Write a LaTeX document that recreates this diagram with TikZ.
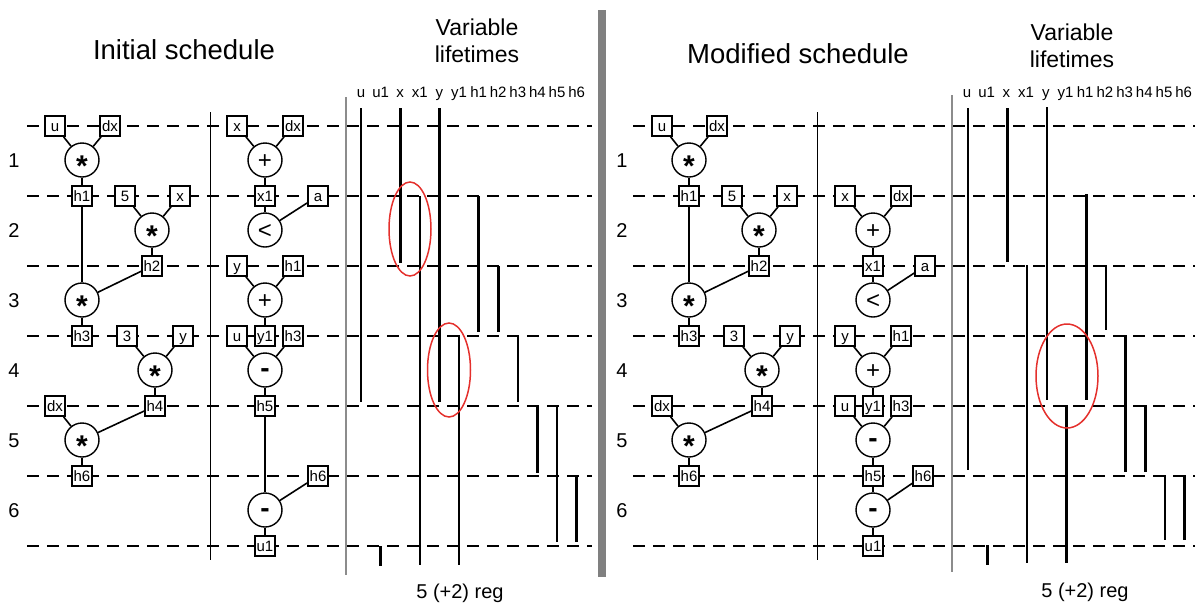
\documentclass[tikz,border=0pt]{standalone}
\usepackage{fontspec}
\setmainfont{Liberation Sans}
\usetikzlibrary{positioning}

\definecolor{lifered}{RGB}{228,48,44}
\definecolor{bargray}{RGB}{128,128,128}
\definecolor{axisgray}{RGB}{140,140,140}

\newcommand{\opmul}{\raisebox{-16.5pt}[0pt][0pt]{\fontsize{30}{30}\selectfont\bfseries *}}
\newcommand{\opadd}{\raisebox{-8.4pt}[0pt][0pt]{+}}
\newcommand{\oplt}{\raisebox{-8.4pt}[0pt][0pt]{<}}
\newcommand{\opsub}{\raisebox{-7.7pt}[0pt][0pt]{\fontsize{28}{28}\selectfont\bfseries -}}

\tikzset{
  varbox/.style={draw, rectangle, line width=1.6pt, fill=white, minimum size=20pt,
    inner sep=0pt, text height=10.8pt, text depth=0pt, font=\fontsize{15}{15}\selectfont},
  opnode/.style={draw, circle, line width=1.4pt, fill=white, minimum size=34pt,
    inner sep=0pt, font=\fontsize{24}{24}\selectfont},
  wire/.style={line width=1.6pt},
  slotline/.style={line width=1.2pt, dash pattern=on 12pt off 8pt},
  lifebar/.style={line width=2.6pt},
  lifering/.style={draw=lifered, line width=1.5pt},
  heading/.style={font=\fontsize{27.5}{32}\selectfont, anchor=base},
  subheading/.style={font=\fontsize{23}{27}\selectfont, align=center},
  stepnum/.style={font=\fontsize{20}{20}\selectfont},
  varname/.style={font=\fontsize{15}{15}\selectfont, anchor=base},
  regcount/.style={font=\fontsize{20}{24}\selectfont, anchor=base},
}

\begin{document}
\begin{tikzpicture}[x=1pt, y=-1pt]
  \useasboundingbox (0,0) rectangle (1195,603);

  % Control steps
  \foreach \y in {126,196,...,546} {
    \draw[slotline] (27,\y) -- (592,\y);
    \draw[slotline] (633,\y) -- (1195,\y);
  }
  \foreach \s in {1,...,6} {
    \node[stepnum] (is\s) at (14,{91+70*\s}) {\s};
    \node[stepnum] (ms\s) at (622,{91+70*\s}) {\s};
  }

  % Dividers
  \fill[bargray] (598,10) rectangle (606,577);
  \draw[line width=1pt] (210,112) -- (210,560);
  \draw[line width=1pt] (817,112) -- (817,560);
  \draw[axisgray, line width=2pt] (346,97) -- (346,575);
  \draw[axisgray, line width=2pt] (952,95) -- (952,572);

  % Titles
  \node[heading] (ititle) at (184,59) {Initial schedule};
  \node[heading] (mtitle) at (798,63) {Modified schedule};
  \node[subheading] (ilife) at (477,41) {Variable\\lifetimes};
  \node[subheading] (mlife) at (1072,46) {Variable\\lifetimes};

  % Initial schedule: first unit
  \node[varbox] (iu) at (55,126) {u};
  \node[varbox] (idx) at (110,126) {dx};
  \node[opnode] (imul1) at (82,160) {\opmul};
  \node[varbox] (ih1) at (82,196) {h1};
  \node[varbox] (ifive) at (125,196) {5};
  \node[varbox] (ix) at (180,196) {x};
  \node[opnode] (imul2) at (152,230) {\opmul};
  \node[varbox] (ih2) at (152,266) {h2};
  \node[opnode] (imul3) at (82,300) {\opmul};
  \node[varbox] (ih3) at (82,336) {h3};
  \node[varbox] (ithree) at (127,336) {3};
  \node[varbox] (iy) at (183,336) {y};
  \node[opnode] (imul4) at (155,370) {\opmul};
  \node[varbox] (ih4) at (155,406) {h4};
  \node[varbox] (idxb) at (55,406) {dx};
  \node[opnode] (imul5) at (82,440) {\opmul};
  \node[varbox] (ih6) at (82,476) {h6};

  \draw[wire] (iu) -- (imul1);
  \draw[wire] (idx) -- (imul1);
  \draw[wire] (imul1) -- (ih1);
  \draw[wire] (ifive) -- (imul2);
  \draw[wire] (ix) -- (imul2);
  \draw[wire] (imul2) -- (ih2);
  \draw[wire] (ih1) -- (imul3);
  \draw[wire] (ih2) -- (imul3);
  \draw[wire] (imul3) -- (ih3);
  \draw[wire] (ithree) -- (imul4);
  \draw[wire] (iy) -- (imul4);
  \draw[wire] (imul4) -- (ih4);
  \draw[wire] (idxb) -- (imul5);
  \draw[wire] (ih4) -- (imul5);
  \draw[wire] (imul5) -- (ih6);

  % Initial schedule: second unit
  \node[varbox] (ixa) at (237,126) {x};
  \node[varbox] (idxa) at (293,126) {dx};
  \node[opnode] (iadd1) at (265,160) {\opadd};
  \node[varbox] (ix1) at (265,196) {x1};
  \node[varbox] (ia) at (318,196) {a};
  \node[opnode] (ilt) at (265,230) {\oplt};
  \node[varbox] (iya) at (237,266) {y};
  \node[varbox] (ih1a) at (293,266) {h1};
  \node[opnode] (iadd2) at (265,300) {\opadd};
  \node[varbox] (iua) at (237,336) {u};
  \node[varbox] (iy1) at (265,336) {y1};
  \node[varbox] (ih3a) at (293,336) {h3};
  \node[opnode] (isub1) at (265,370) {\opsub};
  \node[varbox] (ih5) at (265,406) {h5};
  \node[varbox] (ih6a) at (318,476) {h6};
  \node[opnode] (isub2) at (265,510) {\opsub};
  \node[varbox] (iu1) at (265,546) {u1};

  \draw[wire] (ixa) -- (iadd1);
  \draw[wire] (idxa) -- (iadd1);
  \draw[wire] (iadd1) -- (ix1);
  \draw[wire] (ix1) -- (ilt);
  \draw[wire] (ia) -- (ilt);
  \draw[wire] (iya) -- (iadd2);
  \draw[wire] (ih1a) -- (iadd2);
  \draw[wire] (iadd2) -- (iy1);
  \draw[wire] (iua) -- (isub1);
  \draw[wire] (ih3a) -- (isub1);
  \draw[wire] (isub1) -- (ih5);
  \draw[wire] (ih5) -- (isub2);
  \draw[wire] (ih6a) -- (isub2);
  \draw[wire] (isub2) -- (iu1);

  % Initial schedule: lifetimes
  \foreach \v [count=\i from 0] in {u,u1,x,x1,y,y1,h1,h2,h3,h4,h5,h6}
    \node[varname] (in\v) at ({361+19.6*\i},97) {\v};
  \foreach \i/\a/\b in {0/108/402, 1/546/566, 2/108/263, 3/196/565, 4/108/402, 5/335/565,
                        6/196/332, 7/266/332, 8/335/402, 9/406/473, 10/406/542, 11/476/542}
    \draw[lifebar] ({361+19.6*\i},\a) -- ({361+19.6*\i},\b);
  \draw[lifering] (410,229) ellipse [x radius=21, y radius=47];
  \draw[lifering] (449,370) ellipse [x radius=21.5, y radius=47];
  \node[regcount] (ireg) at (460,598) {5 (+2) reg};

  % Modified schedule: first unit
  \node[varbox] (mu) at (662,126) {u};
  \node[varbox] (mdx) at (717,126) {dx};
  \node[opnode] (mmul1) at (689,160) {\opmul};
  \node[varbox] (mh1) at (689,196) {h1};
  \node[varbox] (mfive) at (732,196) {5};
  \node[varbox] (mx) at (787,196) {x};
  \node[opnode] (mmul2) at (759,230) {\opmul};
  \node[varbox] (mh2) at (759,266) {h2};
  \node[opnode] (mmul3) at (689,300) {\opmul};
  \node[varbox] (mh3) at (689,336) {h3};
  \node[varbox] (mthree) at (734,336) {3};
  \node[varbox] (my) at (790,336) {y};
  \node[opnode] (mmul4) at (762,370) {\opmul};
  \node[varbox] (mh4) at (762,406) {h4};
  \node[varbox] (mdxb) at (662,406) {dx};
  \node[opnode] (mmul5) at (689,440) {\opmul};
  \node[varbox] (mh6) at (689,476) {h6};

  \draw[wire] (mu) -- (mmul1);
  \draw[wire] (mdx) -- (mmul1);
  \draw[wire] (mmul1) -- (mh1);
  \draw[wire] (mfive) -- (mmul2);
  \draw[wire] (mx) -- (mmul2);
  \draw[wire] (mmul2) -- (mh2);
  \draw[wire] (mh1) -- (mmul3);
  \draw[wire] (mh2) -- (mmul3);
  \draw[wire] (mmul3) -- (mh3);
  \draw[wire] (mthree) -- (mmul4);
  \draw[wire] (my) -- (mmul4);
  \draw[wire] (mmul4) -- (mh4);
  \draw[wire] (mdxb) -- (mmul5);
  \draw[wire] (mh4) -- (mmul5);
  \draw[wire] (mmul5) -- (mh6);

  % Modified schedule: second unit
  \node[varbox] (mxa) at (845,196) {x};
  \node[varbox] (mdxa) at (901,196) {dx};
  \node[opnode] (madd1) at (873,230) {\opadd};
  \node[varbox] (mx1) at (873,266) {x1};
  \node[varbox] (ma) at (925,266) {a};
  \node[opnode] (mlt) at (873,300) {\oplt};
  \node[varbox] (mya) at (845,336) {y};
  \node[varbox] (mh1a) at (901,336) {h1};
  \node[opnode] (madd2) at (873,370) {\opadd};
  \node[varbox] (mua) at (845,406) {u};
  \node[varbox] (my1) at (873,406) {y1};
  \node[varbox] (mh3a) at (901,406) {h3};
  \node[opnode] (msub1) at (873,440) {\opsub};
  \node[varbox] (mh5) at (873,476) {h5};
  \node[varbox] (mh6a) at (923,476) {h6};
  \node[opnode] (msub2) at (873,510) {\opsub};
  \node[varbox] (mu1) at (873,546) {u1};

  \draw[wire] (mxa) -- (madd1);
  \draw[wire] (mdxa) -- (madd1);
  \draw[wire] (madd1) -- (mx1);
  \draw[wire] (mx1) -- (mlt);
  \draw[wire] (ma) -- (mlt);
  \draw[wire] (mya) -- (madd2);
  \draw[wire] (mh1a) -- (madd2);
  \draw[wire] (madd2) -- (my1);
  \draw[wire] (mua) -- (msub1);
  \draw[wire] (mh3a) -- (msub1);
  \draw[wire] (msub1) -- (mh5);
  \draw[wire] (mh5) -- (msub2);
  \draw[wire] (mh6a) -- (msub2);
  \draw[wire] (msub2) -- (mu1);

  % Modified schedule: lifetimes
  \foreach \v [count=\i from 0] in {u,u1,x,x1,y,y1,h1,h2,h3,h4,h5,h6}
    \node[varname] (mn\v) at ({967+19.7*\i},97) {\v};
  \foreach \i/\a/\b in {0/108/470, 1/545/565, 2/108/262, 3/265/563, 4/107/400, 5/405/563,
                        6/194/400, 7/265/330, 8/335/472, 9/405/472, 10/475/540, 11/475/540}
    \draw[lifebar] ({968+19.7*\i},\a) -- ({968+19.7*\i},\b);
  \draw[lifering] (1067,376) ellipse [x radius=31, y radius=52];
  \node[regcount] (mreg) at (1085,597) {5 (+2) reg};
\end{tikzpicture}
\end{document}
